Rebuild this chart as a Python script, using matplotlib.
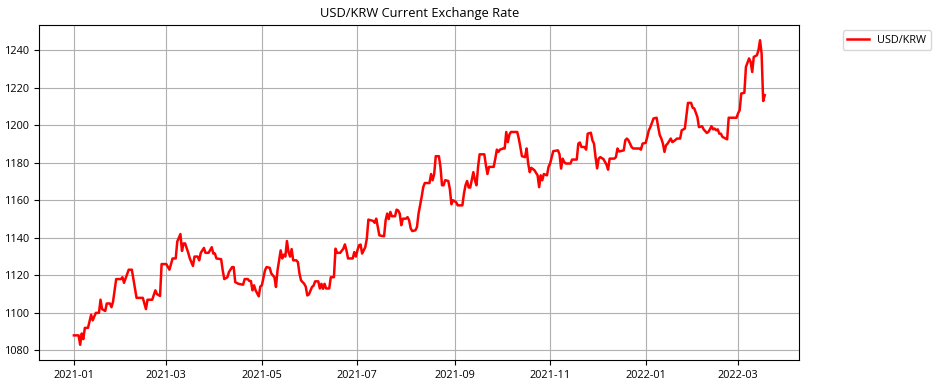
import numpy as np
import pandas as pd
import matplotlib
matplotlib.use('Agg')
import matplotlib.pyplot as plt
import matplotlib.dates as mdates

plt.rcParams['font.family'] = ['Open Sans', 'DejaVu Sans']

# days counted from 2021-01-01, USD/KRW rate
start_date = '2021-01-01'
days = [0, 3, 4, 5, 6, 7, 9, 11, 12, 14, 16, 17, 18, 20, 21, 23, 24, 25, 27, 30,
        31, 32, 35, 37, 40, 44, 46, 47, 50, 52, 53, 55, 56, 59, 61, 63, 65, 66, 67, 68,
        69, 70, 71, 73, 74, 76, 77, 79, 80, 81, 83, 84, 86, 88, 89, 90, 91, 94, 95, 96,
        98, 99, 101, 102, 103, 105, 108, 109, 111, 112, 113, 114, 115, 116, 118, 119, 120, 122, 123, 125,
        126, 128, 129, 130, 132, 133, 134, 135, 136, 137, 138, 139, 140, 142, 143, 144, 145, 146, 147, 148,
        149, 150, 152, 153, 154, 156, 157, 158, 159, 160, 161, 163, 164, 166, 167, 168, 170, 172, 173, 174,
        175, 178, 179, 180, 181, 182, 183, 184, 186, 187, 188, 191, 192, 193, 194, 195, 198, 199, 200, 201,
        202, 203, 205, 206, 207, 208, 209, 210, 212, 213, 214, 215, 216, 218, 219, 220, 222, 223, 224, 227,
        228, 229, 230, 231, 233, 234, 235, 236, 237, 239, 240, 241, 242, 244, 245, 248, 249, 250, 251, 252,
        253, 255, 256, 257, 258, 259, 262, 263, 264, 265, 268, 269, 270, 271, 272, 274, 275, 276, 277, 278,
        279, 283, 284, 285, 286, 288, 289, 290, 291, 292, 294, 296, 297, 298, 299, 300, 302, 303, 304, 305,
        306, 309, 310, 311, 312, 313, 314, 317, 318, 321, 322, 323, 324, 326, 327, 328, 330, 331, 332, 333,
        334, 335, 336, 338, 340, 341, 342, 345, 346, 347, 348, 351, 352, 353, 354, 356, 357, 361, 362, 363,
        365, 366, 367, 368, 370, 372, 373, 374, 375, 376, 377, 378, 379, 381, 382, 383, 385, 387, 388, 390,
        391, 392, 394, 395, 396, 398, 399, 401, 402, 404, 405, 406, 407, 408, 409, 410, 411, 412, 413, 414,
        416, 417, 418, 423, 424, 425, 426, 428, 429, 431, 432, 433, 434, 436, 437, 438, 439, 440, 441]
rates = [1088, 1088, 1083, 1089, 1086, 1092, 1092, 1099, 1096, 1100, 1100, 1107, 1102, 1101, 1105, 1105, 1103, 1106, 1118, 1118,
         1119, 1116, 1123, 1123, 1108, 1108, 1102, 1107, 1107, 1112, 1110, 1109, 1126, 1126, 1123, 1129, 1129, 1138, 1140, 1142,
         1133, 1137, 1137, 1132, 1129, 1125, 1130, 1130, 1128, 1132, 1134.6, 1132, 1132, 1135, 1131.6, 1131.6, 1129, 1128.6, 1122.7, 1118,
         1119, 1121.8, 1124.4, 1124.4, 1116.4, 1115.5, 1115, 1118, 1118, 1117, 1117, 1112, 1114.7, 1112, 1108.8, 1114, 1114.7, 1122.7, 1124.4, 1124,
         1121, 1119, 1113.8, 1122.7, 1133.3, 1129, 1131, 1130, 1138.3, 1132.4, 1130, 1134, 1128, 1128, 1127, 1121, 1117.3, 1116.4, 1115.5, 1114,
         1109.3, 1109.8, 1113.8, 1114.5, 1116.8, 1116.8, 1113, 1115.5, 1112.8, 1115.5, 1113, 1113, 1119, 1119, 1134.2, 1132, 1132, 1134.2, 1136.5, 1133.3,
         1129, 1129, 1132.4, 1130, 1133.3, 1136, 1136.4, 1131.6, 1135, 1139.6, 1149.7, 1149, 1148, 1150.2, 1145.7, 1141.3, 1140.8, 1149.3, 1152.9, 1150,
         1153.8, 1151.5, 1151.5, 1155, 1154.6, 1152.9, 1146.7, 1150.2, 1150.2, 1151, 1149.3, 1145, 1143.6, 1144, 1145.7, 1152.9, 1161.8, 1167, 1169.2, 1169.2,
         1174, 1170.7, 1174, 1183.5, 1183.5, 1177.8, 1168, 1168, 1170.7, 1170.3, 1166, 1157.9, 1160, 1159, 1157.3, 1157.3, 1163.6, 1168, 1170.3, 1166.8,
         1166.8, 1175, 1170.7, 1168, 1177.8, 1184.5, 1184.5, 1178.7, 1174, 1177.8, 1177.8, 1182.2, 1187, 1185.8, 1187, 1187.6, 1187.6, 1196.4, 1191, 1195,
         1196.4, 1196.4, 1192.9, 1188.4, 1183.5, 1183, 1187.6, 1179.6, 1175, 1177.3, 1176, 1173.3, 1167, 1173.3, 1170.7, 1174, 1173.3, 1177.8, 1179.6, 1183,
         1186.2, 1186.6, 1184.5, 1176.9, 1182.2, 1180.4, 1179.6, 1179.6, 1181.7, 1181.7, 1190.2, 1190.8, 1188.4, 1188.4, 1187, 1195.5, 1196, 1192, 1190.2, 1183,
         1177, 1182.2, 1183, 1182, 1179, 1176.3, 1182.2, 1182.2, 1183, 1187.6, 1186, 1186.6, 1192, 1192.9, 1192, 1188.4, 1187.6, 1187.6, 1187, 1190.2,
         1190.6, 1193.8, 1197.3, 1199, 1203.6, 1204, 1199, 1194.7, 1192.9, 1190.2, 1185.8, 1189.3, 1190.2, 1192.9, 1191, 1191.5, 1192.9, 1192.9, 1197.3, 1198.2,
         1205.3, 1211.9, 1211.9, 1209.3, 1209, 1204.4, 1199, 1199.5, 1197.8, 1195.9, 1196.4, 1197.8, 1199.5, 1197.8, 1198.2, 1197.3, 1197.8, 1195.5, 1195.5, 1193.8,
         1192.9, 1192.5, 1204, 1204, 1206.4, 1208, 1216.9, 1217.3, 1231.1, 1235.6, 1233.8, 1228.4, 1236.4, 1237.3, 1240, 1245.3, 1238.2, 1212.9, 1216]

dates = pd.to_datetime(start_date) + pd.to_timedelta(days, unit='D')

fig = plt.figure(figsize=(9.39, 3.86), dpi=100)
ax = fig.add_axes([0.0419, 0.0674, 0.8093, 0.8678])

ax.plot(dates, rates, color='red', lw=1.8, label='USD/KRW')
ax.set_title('USD/KRW Current Exchange Rate', fontsize=9.3)

ax.xaxis.set_major_locator(mdates.MonthLocator(bymonth=[1, 3, 5, 7, 9, 11]))
ax.xaxis.set_major_formatter(mdates.DateFormatter('%Y-%m'))
ax.tick_params(labelsize=7.8)
ax.grid(True)

ax.legend(loc='upper left', bbox_to_anchor=(1.05, 1), fontsize=7.8)

plt.savefig('out.png', dpi=100)
